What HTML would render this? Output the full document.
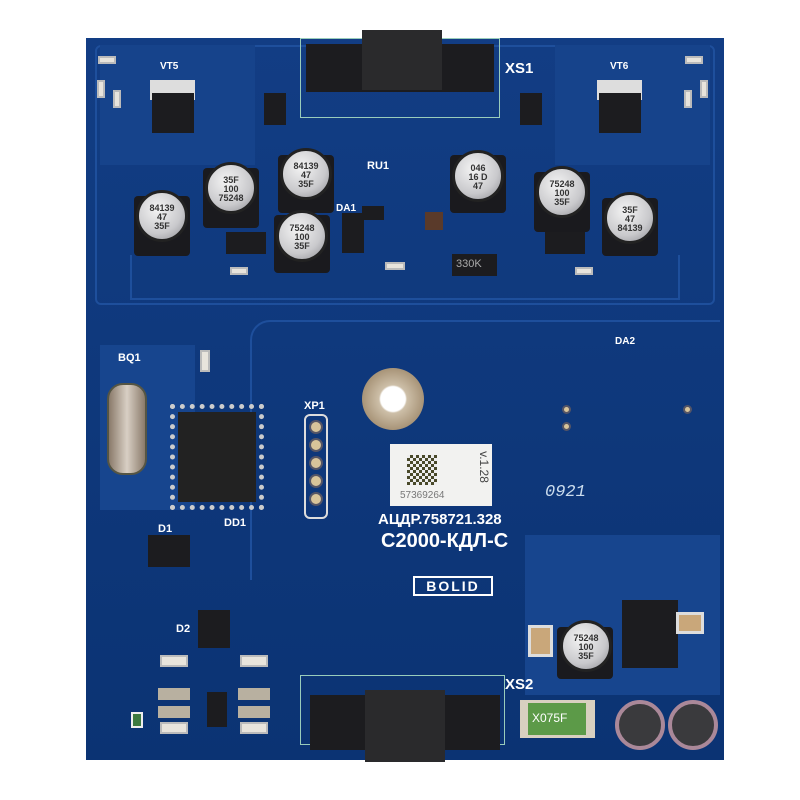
<!DOCTYPE html>
<html><head><meta charset="utf-8"><style>
body{margin:0;background:#fff;width:800px;height:800px;overflow:hidden;position:relative;font-family:"Liberation Sans",sans-serif}
div{position:absolute;box-sizing:border-box}
.cap{border-radius:50%;background:radial-gradient(circle at 40% 35%,#f4f4f4,#c9c9cc 60%,#8a8a90);border:3px solid #222;color:#333;font-size:9px;line-height:9px;text-align:center;padding-top:11px;font-weight:bold}
.base{background:#1a1a1e;border-radius:4px}
.blk{background:#1c1c1f}
.r{background:#e8e4dc;border:2px solid #bbb}
.t{color:#fff;font-weight:bold;white-space:nowrap}
.pad{border-radius:50%;background:#d8c49a;border:2px solid #556}
.tr{border:2px solid #1e4f9c}
</style></head><body>
<div style="left:86px;top:38px;width:638px;height:722px;background:linear-gradient(180deg,#123d84,#0b3373)"></div>
<div class="tr" style="left:95px;top:45px;width:620px;height:260px;border-radius:6px"></div>
<div class="tr" style="left:130px;top:255px;width:550px;height:45px;border-top:none"></div>
<div class="tr" style="left:250px;top:320px;width:470px;height:260px;border-right:none;border-bottom:none;border-radius:20px 0 0 0"></div>
<div style="left:100px;top:345px;width:95px;height:165px;background:#17458e"></div>
<div style="left:525px;top:535px;width:195px;height:160px;background:#17458e"></div>
<div style="left:555px;top:45px;width:155px;height:120px;background:#16438b"></div>
<div style="left:100px;top:45px;width:155px;height:120px;background:#16438b"></div>
<!-- XS1 -->
<div style="left:300px;top:38px;width:200px;height:80px;border:1px solid #9cb"></div>
<div class="blk" style="left:306px;top:44px;width:188px;height:48px"></div>
<div style="left:362px;top:30px;width:80px;height:60px;background:#2a2a2c"></div>
<div class="t" style="left:505px;top:60px;font-size:15px">XS1</div>
<!-- XS2 -->
<div style="left:300px;top:675px;width:205px;height:70px;border:1px solid #9cb"></div>
<div class="blk" style="left:310px;top:695px;width:190px;height:55px"></div>
<div style="left:365px;top:690px;width:80px;height:72px;background:#2a2a2c"></div>
<div class="t" style="left:505px;top:676px;font-size:15px">XS2</div>
<!-- VT -->
<div style="left:150px;top:80px;width:45px;height:20px;background:#ddd"></div>
<div class="blk" style="left:152px;top:93px;width:42px;height:40px"></div>
<div class="t" style="left:160px;top:61px;font-size:10px">VT5</div>
<div style="left:597px;top:80px;width:45px;height:20px;background:#ddd"></div>
<div class="blk" style="left:599px;top:93px;width:42px;height:40px"></div>
<div class="t" style="left:610px;top:61px;font-size:10px">VT6</div>
<div class="blk" style="left:264px;top:93px;width:22px;height:32px"></div>
<div class="blk" style="left:520px;top:93px;width:22px;height:32px"></div>
<!-- cap bases -->
<div class="base" style="left:203px;top:168px;width:56px;height:60px"></div>
<div class="base" style="left:134px;top:196px;width:56px;height:60px"></div>
<div class="base" style="left:278px;top:155px;width:56px;height:58px"></div>
<div class="base" style="left:274px;top:215px;width:56px;height:58px"></div>
<div class="base" style="left:450px;top:155px;width:56px;height:58px"></div>
<div class="base" style="left:534px;top:172px;width:56px;height:60px"></div>
<div class="base" style="left:602px;top:198px;width:56px;height:58px"></div>
<!-- caps -->
<div class="cap" style="left:205px;top:162px;width:52px;height:52px">35F<br>100<br>75248</div>
<div class="cap" style="left:136px;top:190px;width:52px;height:52px">84139<br>47<br>35F</div>
<div class="cap" style="left:280px;top:148px;width:52px;height:52px">84139<br>47<br>35F</div>
<div class="cap" style="left:276px;top:210px;width:52px;height:52px">75248<br>100<br>35F</div>
<div class="cap" style="left:452px;top:150px;width:52px;height:52px">046<br>16 D<br>47</div>
<div class="cap" style="left:536px;top:166px;width:52px;height:52px">75248<br>100<br>35F</div>
<div class="cap" style="left:604px;top:192px;width:52px;height:52px">35F<br>47<br>84139</div>
<div class="t" style="left:367px;top:160px;font-size:11px">RU1</div>
<div class="t" style="left:336px;top:203px;font-size:10px">DA1</div>
<div class="blk" style="left:342px;top:213px;width:22px;height:40px"></div>
<div class="blk" style="left:452px;top:254px;width:45px;height:22px;color:#aaa;font-size:11px;padding:4px">330K</div>
<div class="blk" style="left:226px;top:232px;width:40px;height:22px"></div>
<div class="blk" style="left:545px;top:232px;width:40px;height:22px"></div>
<div class="blk" style="left:362px;top:206px;width:22px;height:14px"></div>
<div class="blk" style="left:425px;top:212px;width:18px;height:18px;background:#5a3a2a"></div>
<!-- resistors -->
<div class="r" style="left:98px;top:56px;width:18px;height:8px"></div>
<div class="r" style="left:685px;top:56px;width:18px;height:8px"></div>
<div class="r" style="left:97px;top:80px;width:8px;height:18px"></div>
<div class="r" style="left:700px;top:80px;width:8px;height:18px"></div>
<div class="r" style="left:113px;top:90px;width:8px;height:18px"></div>
<div class="r" style="left:684px;top:90px;width:8px;height:18px"></div>
<div class="r" style="left:200px;top:350px;width:10px;height:22px"></div>
<div class="r" style="left:385px;top:262px;width:20px;height:8px"></div>
<div class="r" style="left:230px;top:267px;width:18px;height:8px"></div>
<div class="r" style="left:575px;top:267px;width:18px;height:8px"></div>
<!-- left section -->
<div class="t" style="left:118px;top:352px;font-size:11px">BQ1</div>
<div style="left:107px;top:383px;width:40px;height:92px;border-radius:16px;background:linear-gradient(90deg,#8a7a6a,#d8cfc4,#8a7a6a);border:2px solid #554"></div>
<div class="blk" style="left:178px;top:412px;width:78px;height:90px;background:#222"></div>
<div style="left:170px;top:404px;width:94px;height:106px;border:5px dotted #ccc"></div>
<div class="t" style="left:224px;top:517px;font-size:11px">DD1</div>
<div class="t" style="left:158px;top:523px;font-size:11px">D1</div>
<div class="blk" style="left:148px;top:535px;width:42px;height:32px"></div>
<div class="t" style="left:176px;top:623px;font-size:11px">D2</div>
<div class="blk" style="left:198px;top:610px;width:32px;height:38px"></div>
<div class="t" style="left:304px;top:400px;font-size:11px">XP1</div>
<div style="left:304px;top:414px;width:24px;height:105px;border:2px solid #ddd;border-radius:6px"></div>
<div class="pad" style="left:309px;top:420px;width:14px;height:14px"></div>
<div class="pad" style="left:309px;top:438px;width:14px;height:14px"></div>
<div class="pad" style="left:309px;top:456px;width:14px;height:14px"></div>
<div class="pad" style="left:309px;top:474px;width:14px;height:14px"></div>
<div class="pad" style="left:309px;top:492px;width:14px;height:14px"></div>
<!-- center -->
<div style="left:362px;top:368px;width:62px;height:62px;border-radius:50%;background:radial-gradient(circle,#fff 28%,#cdbfa8 32%,#a89478 70%)"></div>
<div style="left:390px;top:444px;width:102px;height:62px;background:#f2f2f0"></div>
<div style="left:407px;top:455px;width:30px;height:30px;background:repeating-conic-gradient(#4a4a2a 0 25%,#eee 0 50%) 0 0/6px 6px"></div>
<div style="left:400px;top:490px;font-size:10px;color:#777">57369264</div>
<div style="left:468px;top:460px;font-size:12px;color:#444;transform:rotate(90deg)">v.1.28</div>
<div class="t" style="left:378px;top:511px;font-size:15px">АЦДР.758721.328</div>
<div class="t" style="left:381px;top:530px;font-size:20px">С2000-КДЛ-С</div>
<div class="t" style="left:413px;top:576px;width:80px;height:20px;border:2px solid #fff;font-size:14px;text-align:center;line-height:16px;letter-spacing:2px">BOLID</div>
<div style="left:545px;top:483px;font-size:17px;color:#cde;font-style:italic;font-family:'Liberation Mono',monospace">0921</div>
<div class="t" style="left:615px;top:336px;font-size:10px">DA2</div>
<div class="pad" style="left:562px;top:405px;width:9px;height:9px"></div>
<div class="pad" style="left:562px;top:422px;width:9px;height:9px"></div>
<div class="pad" style="left:683px;top:405px;width:9px;height:9px"></div>
<!-- bottom right -->
<div class="blk" style="left:622px;top:600px;width:56px;height:68px"></div>
<div class="base" style="left:557px;top:627px;width:56px;height:52px"></div>
<div class="cap" style="left:560px;top:620px;width:52px;height:52px">75248<br>100<br>35F</div>
<div style="left:528px;top:625px;width:25px;height:32px;background:#c9a77a;border:3px solid #ddd"></div>
<div style="left:676px;top:612px;width:28px;height:22px;background:#c9a77a;border:3px solid #ddd"></div>
<div style="left:520px;top:700px;width:75px;height:38px;background:#d8d0c0"></div>
<div style="left:528px;top:703px;width:58px;height:32px;background:#5c9a48;color:#fff;font-size:12px;padding:8px 4px">X075F</div>
<div style="left:615px;top:700px;width:50px;height:50px;border-radius:50%;background:#3a3a3d;border:4px solid #a89"></div>
<div style="left:668px;top:700px;width:50px;height:50px;border-radius:50%;background:#3a3a3d;border:4px solid #a89"></div>
<!-- bottom left -->
<div class="r" style="left:160px;top:655px;width:28px;height:12px"></div>
<div class="r" style="left:240px;top:655px;width:28px;height:12px"></div>
<div class="r" style="left:160px;top:722px;width:28px;height:12px"></div>
<div class="r" style="left:240px;top:722px;width:28px;height:12px"></div>
<div style="left:158px;top:688px;width:32px;height:12px;background:#b8b0a0"></div>
<div style="left:158px;top:706px;width:32px;height:12px;background:#b8b0a0"></div>
<div style="left:238px;top:688px;width:32px;height:12px;background:#b8b0a0"></div>
<div style="left:238px;top:706px;width:32px;height:12px;background:#b8b0a0"></div>
<div class="blk" style="left:207px;top:692px;width:20px;height:35px"></div>
<div style="left:131px;top:712px;width:12px;height:16px;background:#3c7a40;border:2px solid #eee"></div>
</body></html>
